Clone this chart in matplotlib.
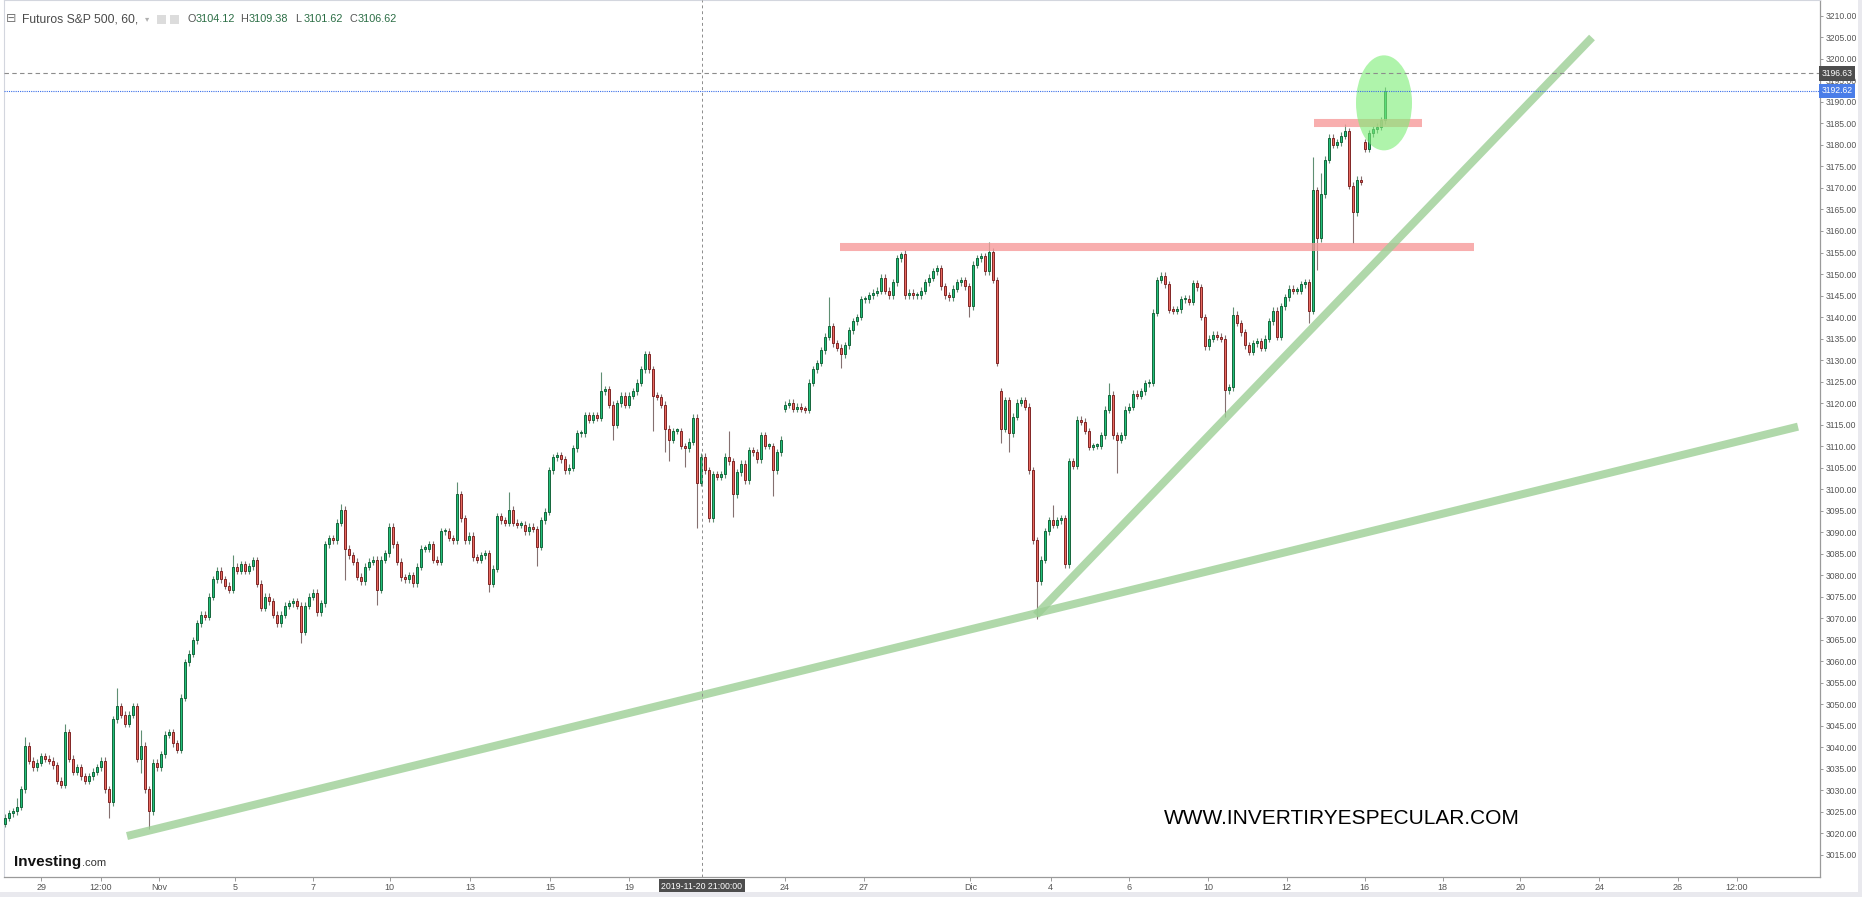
import numpy as np
import matplotlib
matplotlib.use("Agg")
import matplotlib.pyplot as plt
from matplotlib.patches import Ellipse, Rectangle
import matplotlib.transforms as mtransforms

plt.rcParams['font.family'] = ['Liberation Sans', 'DejaVu Sans']

# ---------------- data (hourly-ish candles) ----------------
closes = [
    3023.6, 3024.6, 3025.1, 3026.1, 3030.2, 3040.3, 3036.8, 3035.3, 3036.3, 3037.8,
    3037.3, 3036.8, 3035.8, 3032.2, 3031.2, 3043.4, 3037.3, 3034.3, 3035.3, 3033.2,
    3032.2, 3033.2, 3034.3, 3035.3, 3036.8, 3030.2, 3027.1, 3046.4, 3049.5, 3047.5,
    3045.4, 3047.5, 3049.5, 3037.3, 3040.3, 3030.2, 3025.1, 3036.3, 3035.3, 3038.3,
    3042.9, 3043.4, 3040.9, 3039.3, 3051.5, 3059.7, 3061.7, 3064.8, 3068.8, 3070.8,
    3070.3, 3074.9, 3079.0, 3081.0, 3079.0, 3077.5, 3076.6, 3081.9, 3081.0, 3082.5,
    3081.0, 3082.0, 3083.5, 3078.0, 3072.4, 3074.9, 3073.9, 3070.8, 3068.8, 3070.8,
    3072.9, 3073.4, 3073.9, 3072.9, 3066.8, 3072.9, 3074.9, 3075.9, 3071.3, 3073.4,
    3087.1, 3088.6, 3088.1, 3092.2, 3095.2, 3086.1, 3084.6, 3083.1, 3079.6, 3078.5,
    3081.9, 3083.1, 3083.6, 3076.5, 3083.6, 3085.1, 3091.2, 3087.1, 3083.1, 3079.5,
    3079.0, 3080.0, 3078.1, 3081.9, 3086.1, 3086.1, 3087.1, 3083.6, 3083.1, 3090.2,
    3090.2, 3088.6, 3088.1, 3098.8, 3093.2, 3088.1, 3089.1, 3084.1, 3083.6, 3084.6,
    3085.1, 3078.0, 3081.5, 3093.7, 3092.7, 3092.2, 3095.2, 3092.2, 3091.7, 3091.7,
    3090.2, 3091.2, 3090.7, 3086.6, 3092.7, 3094.7, 3104.4, 3107.4, 3107.9, 3106.9,
    3104.4, 3104.9, 3109.5, 3113.0, 3113.0, 3117.1, 3116.1, 3117.2, 3116.6, 3122.7,
    3123.2, 3119.6, 3115.0, 3119.9, 3121.7, 3119.6, 3121.7, 3122.7, 3124.7, 3127.8,
    3131.3, 3127.8, 3121.7, 3121.4, 3119.6, 3114.0, 3111.5, 3113.5, 3113.5, 3110.0,
    3109.5, 3111.0, 3116.6, 3101.4, 3107.5, 3104.4, 3093.2, 3103.4, 3102.9, 3103.4,
    3107.5, 3106.4, 3098.8, 3103.9, 3105.9, 3102.0, 3109.0, 3108.5, 3106.9, 3112.5,
    3110.0, 3110.0, 3104.4, 3108.5, 3111.5, 3119.6, 3120.1, 3118.6, 3119.1, 3118.6,
    3118.4, 3124.7, 3127.8, 3129.3, 3132.3, 3135.4, 3137.9, 3133.9, 3132.9, 3131.3,
    3133.4, 3136.9, 3139.0, 3140.0, 3144.1, 3144.1, 3145.1, 3145.6, 3146.1, 3149.1,
    3146.1, 3145.1, 3148.1, 3153.7, 3154.7, 3145.1, 3145.6, 3145.1, 3145.1, 3146.1,
    3148.1, 3149.1, 3150.6, 3151.4, 3147.1, 3145.1, 3144.6, 3146.6, 3148.1, 3148.5,
    3147.1, 3142.5, 3152.2, 3153.7, 3154.2, 3150.6, 3155.2, 3148.6, 3129.3, 3114.0,
    3120.7, 3113.0, 3116.8, 3120.1, 3120.7, 3119.1, 3104.4, 3088.1, 3078.5, 3083.6,
    3090.2, 3092.8, 3091.7, 3092.7, 3093.2, 3082.5, 3106.4, 3105.4, 3116.1, 3115.6,
    3113.5, 3109.8, 3110.0, 3110.0, 3112.5, 3118.4, 3121.9, 3112.5, 3111.5, 3112.5,
    3118.4, 3119.1, 3122.2, 3121.7, 3122.7, 3124.6, 3124.7, 3141.0, 3148.6, 3149.6,
    3147.6, 3141.7, 3141.5, 3141.8, 3144.1, 3144.3, 3143.6, 3147.9, 3146.9, 3140.0,
    3133.2, 3134.9, 3135.9, 3135.4, 3134.9, 3123.0, 3123.7, 3140.5, 3138.6, 3136.4,
    3133.4, 3131.9, 3133.9, 3134.4, 3132.9, 3134.9, 3139.0, 3141.5, 3135.4, 3142.5,
    3144.6, 3146.6, 3146.1, 3146.1, 3147.6, 3148.1, 3141.5, 3169.5, 3158.3, 3168.5,
    3176.6, 3181.7, 3180.0, 3180.6, 3182.2, 3183.2, 3170.5, 3164.4, 3171.9, 3171.5,
    3179.1, 3182.7, 3183.7, 3184.2, 3185.7, 3192.6,
]
# opens where the session gapped (otherwise open = previous close)
gap_opens = {0: 3022.1, 195: 3118.6, 249: 3122.7, 340: 3180.6}
# notable wick extremes
wick_highs = {3: 3028.2, 5: 3042.3, 15: 3045.4, 28: 3053.8, 34: 3043.9, 57: 3084.6,
              84: 3096.6, 113: 3101.6, 126: 3099.3, 149: 3127.3, 181: 3113.5,
              206: 3144.7, 224: 3155.2, 246: 3157.4, 262: 3096.2, 276: 3124.6,
              307: 3142.4, 327: 3177.3, 329: 3173.6, 335: 3184.8}
wick_lows = {26: 3023.6, 34: 3034.0, 36: 3020.9, 74: 3064.3, 85: 3078.9, 93: 3073.1,
             121: 3076.0, 133: 3082.0, 152: 3111.5, 162: 3113.5, 165: 3108.7,
             166: 3106.4, 170: 3105.1, 173: 3091.0, 182: 3093.5, 192: 3098.3,
             209: 3128.1, 241: 3140.0, 249: 3110.7, 251: 3108.5, 258: 3069.8,
             278: 3103.7, 305: 3116.8, 326: 3138.6, 328: 3151.0, 337: 3157.3}
base_wick = 0.8

date_labels = ["29", "12:00", "Nov", "5", "7", "10", "13", "15", "19", "24", "27",
               "Dic", "4", "6", "10", "12", "16", "18", "20", "24", "26", "12:00"]
date_positions = [9.1, 23.95, 38.5, 57.5, 76.9, 96.2, 116.25, 136.25, 156.0, 194.9,
                  214.65, 241.35, 261.4, 281.05, 300.8, 320.4, 339.9, 359.4, 378.85,
                  398.6, 418.25, 432.95]

price_ticks = np.arange(3015, 3211, 5)
last_price = 3192.62
ref_price = 3196.63

resist_levels = [3156.3, 3185.1]
resist_spans = [(208.75, 367.25), (327.25, 354.25)]

trend_x = [(30.5, 448.25), (257.75, 396.75)]
trend_y = [(3019.3, 3114.5), (3070.7, 3205.0)]

circle_center = (344.75, 3189.8)
circle_size = (14.0, 22.1)

cross_pos = 174.2
cross_label = "2019-11-20 21:00:00"

title = "Futuros S&P 500, 60,"
ohlc_letters = ["O", "H", "L", "C"]
ohlc_values = ["3104.12", "3109.38", "3101.62", "3106.62"]
watermark = "WWW.INVERTIRYESPECULAR.COM"

# ---------------- figure ----------------
W, H = 1862, 897
fig = plt.figure(figsize=(W / 100, H / 100), dpi=100)
fig.patch.set_facecolor("white")
ax_l, ax_r, ax_t, ax_b = 4, 1820, 0, 877
ax = fig.add_axes([ax_l / W, 1 - ax_b / H, (ax_r - ax_l) / W, (ax_b - ax_t) / H])
bar_px, x0_px = 4, 5
ax.set_xlim((ax_l - x0_px) / bar_px, (ax_r - x0_px) / bar_px)
ax.set_ylim(3009.77, 3213.72)

# candles
c = np.array(closes)
n = len(c)
idx = np.arange(n)
o = np.array([gap_opens.get(i, c[i - 1] if i > 0 else c[0]) for i in range(n)])
top = np.maximum(o, c)
bot = np.minimum(o, c)
hi = np.array([wick_highs.get(i, top[i] + base_wick) for i in range(n)])
lo = np.array([wick_lows.get(i, bot[i] - base_wick) for i in range(n)])
up = c >= o

ax.vlines(idx[up], lo[up], hi[up], color="#5f8f73", lw=0.8, zorder=2)
ax.vlines(idx[~up], lo[~up], hi[~up], color="#857070", lw=0.8, zorder=2)
hgt = np.maximum(top - bot, 0.35)
ax.bar(idx[up], hgt[up], bottom=bot[up], width=0.6, color="#22c07a",
       edgecolor="#0d5e33", linewidth=0.65, zorder=3)
ax.bar(idx[~up], hgt[~up], bottom=bot[~up], width=0.6, color="#e8695f",
       edgecolor="#7a1c1c", linewidth=0.65, zorder=3)

# resistance bands
for lvl, (a, b) in zip(resist_levels, resist_spans):
    ax.plot([a, b], [lvl, lvl], color="#f79a9a", lw=5.8, alpha=0.8,
            solid_capstyle="butt", zorder=4)

# trend lines
for xs, ys in zip(trend_x, trend_y):
    ax.plot(xs, ys, color="#9ccf95", lw=5.8, alpha=0.8, solid_capstyle="butt",
            zorder=4)

# highlight ellipse
ax.add_patch(Ellipse(circle_center, circle_size[0], circle_size[1],
                     facecolor="#7fee78", edgecolor="none", alpha=0.62, zorder=5))

# price lines
ax.axhline(ref_price, color="#8c8c8c", lw=0.8, ls=(0, (4, 3)), zorder=6)
ax.axhline(last_price, color="#3a6ee8", lw=0.8, ls=(0, (1, 1)), zorder=6)
ax.axvline(cross_pos, color="#8c8c8c", lw=0.7, ls=(0, (3, 3)), zorder=6)

# axes styling
for s in ["left", "top"]:
    ax.spines[s].set_color("#d3d6de")
    ax.spines[s].set_linewidth(0.8)
for s in ["right", "bottom"]:
    ax.spines[s].set_color("#9a9a9a")
    ax.spines[s].set_linewidth(0.9)
ax.yaxis.tick_right()
ax.set_yticks(price_ticks)
ax.set_yticklabels([f"{v:.2f}" for v in price_ticks])
ax.tick_params(axis="y", labelsize=6.2, colors="#9a9a9a", labelcolor="#555555",
               length=2.5, width=0.7, pad=1.5)
ax.set_xticks(date_positions)
ax.set_xticklabels(date_labels)
ax.tick_params(axis="x", labelsize=6.5, colors="#9a9a9a", labelcolor="#555555",
               length=3, width=0.7, pad=1.5)
for lbl in ax.get_xticklabels():
    lbl.set_family(["Liberation Sans Narrow", "Liberation Sans", "DejaVu Sans"])

# price boxes on right axis
ytrans = mtransforms.blended_transform_factory(ax.transAxes, ax.transData)
xoff = 1.5 / (ax_r - ax_l)
ax.text(1 + xoff, ref_price, f"{ref_price:.2f}", transform=ytrans, ha="left",
        va="center", fontsize=6.2, color="white", zorder=10, clip_on=False,
        bbox=dict(boxstyle="square,pad=0.3", fc="#4d4d4d", ec="none"))
ax.text(1 + xoff, last_price, f"{last_price:.2f}", transform=ytrans, ha="left",
        va="center", fontsize=6.2, color="white", zorder=10, clip_on=False,
        bbox=dict(boxstyle="square,pad=0.3", fc="#4a7de8", ec="none"))

# crosshair date box
xtrans = mtransforms.blended_transform_factory(ax.transData, ax.transAxes)
ax.text(cross_pos, -9.5 / (ax_b - ax_t), cross_label, transform=xtrans, ha="center",
        va="center", fontsize=6.3, color="white", zorder=10, clip_on=False,
        family=["Liberation Sans Narrow", "Liberation Sans", "DejaVu Sans"],
        bbox=dict(boxstyle="square,pad=0.3", fc="#4d4d4d", ec="none"))

# ---------------- decorations in pixel coords ----------------
def fx(px):
    return px / W

def fy(py):
    return 1 - py / H

# bottom and right grey strips
fig.patches.append(Rectangle((0, 0), 1, 5 / H, transform=fig.transFigure,
                             fc="#e9e9ee", ec="none", zorder=0))
fig.patches.append(Rectangle((fx(1858), 0), 4 / W, 1, transform=fig.transFigure,
                             fc="#e9e9ee", ec="none", zorder=0))

# legend line at top-left
fig.text(fx(6), fy(19), "\u229f", fontsize=9, color="#7a7a7a", va="center",
         ha="left", family=["DejaVu Sans"])
fig.text(fx(22), fy(19), title, fontsize=8.7, color="#4a4a4a", va="center", ha="left")
fig.text(fx(145), fy(19), "\u25be", fontsize=6, color="#b0b0b0", va="center",
         ha="left", family=["DejaVu Sans"])
fig.patches.append(Rectangle((fx(157), fy(24)), 9 / W, 9 / H, transform=fig.transFigure,
                             fc="#dcdcdc", ec="none"))
fig.patches.append(Rectangle((fx(170), fy(24)), 9 / W, 9 / H, transform=fig.transFigure,
                             fc="#dcdcdc", ec="none"))
letter_px = [187, 240, 295, 349]
for lx, L, V in zip(letter_px, ohlc_letters, ohlc_values):
    fig.text(fx(lx), fy(19), L, fontsize=7.8, color="#555555", va="center", ha="left")
    fig.text(fx(lx + 9), fy(19), V, fontsize=7.8, color="#2b6e45", va="center", ha="left")

# Investing.com logo
fig.text(fx(14), fy(866), "Investing", fontsize=11, fontweight="bold", color="#111111",
         va="baseline", ha="left")
fig.text(fx(82), fy(866), ".com", fontsize=8, color="#333333", va="baseline", ha="left")

# watermark
fig.text(fx(1342), fy(819), watermark, fontsize=15, color="#000000", va="center",
         ha="center")

fig.savefig("out.png", dpi=100, facecolor="white")
